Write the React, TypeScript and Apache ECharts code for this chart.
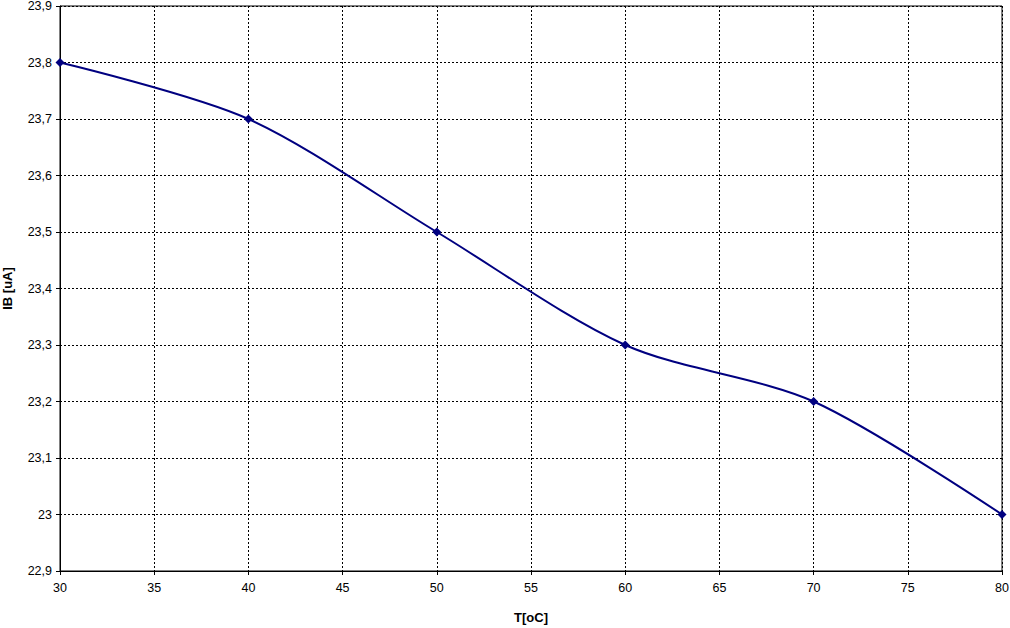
import React, { useEffect, useRef } from "react";
import * as echarts from "echarts";

const temperatures = [30, 40, 50, 60, 70, 80];
const ibValues = [23.8, 23.7, 23.5, 23.3, 23.2, 23.0];
const xTitle = "T[oC]";
const yTitle = "IB [uA]";

export default function App() {
  const ref = useRef<HTMLDivElement>(null);
  useEffect(() => {
    if (!ref.current) return;
    const chart = echarts.init(ref.current, null, { renderer: "svg" });
    const font = "'Liberation Sans', Arial, sans-serif";
    chart.setOption({
      animation: false,
      backgroundColor: "#ffffff",
      textStyle: { fontFamily: font },
      grid: {
        left: 60,
        right: 8,
        top: 6,
        bottom: 57,
        containLabel: false,
        outerBoundsMode: "none",
        show: true,
        borderColor: "#000",
        borderWidth: 1,
        backgroundColor: "transparent",
      },
      xAxis: {
        type: "value",
        min: 30,
        max: 80,
        interval: 5,
        name: xTitle,
        nameLocation: "middle",
        nameGap: 40,
        nameTextStyle: { fontFamily: font, fontSize: 13, fontWeight: "bold", color: "#000" },
        axisLine: { show: true, lineStyle: { color: "#000", width: 1 } },
        axisTick: { show: true, inside: false, length: 4, lineStyle: { color: "#000" } },
        axisLabel: { fontFamily: font, fontSize: 12.5, color: "#000", margin: 10 },
        splitLine: { show: true, lineStyle: { color: "#000", type: [2, 2], width: 1 } },
      },
      yAxis: {
        type: "value",
        min: 22.9,
        max: 23.9,
        interval: 0.1,
        name: yTitle,
        nameLocation: "middle",
        nameGap: 46,
        nameRotate: 90,
        nameTextStyle: { fontFamily: font, fontSize: 13, fontWeight: "bold", color: "#000" },
        axisLine: { show: true, lineStyle: { color: "#000", width: 1 } },
        axisTick: { show: true, inside: false, length: 4, lineStyle: { color: "#000" } },
        axisLabel: {
          fontFamily: font,
          fontSize: 12.5,
          color: "#000",
          margin: 8,
          formatter: (v: number) => {
            const r = Math.round(v * 10) / 10;
            return String(r).replace(".", ",");
          },
        },
        splitLine: { show: true, lineStyle: { color: "#000", type: [2, 2], width: 1 } },
      },
      series: [
        {
          type: "line",
          data: temperatures.map((t, i) => [t, ibValues[i]]),
          smooth: 0.3,
          symbol: "diamond",
          symbolSize: 9,
          itemStyle: { color: "#000080" },
          lineStyle: { color: "#000080", width: 2 },
        },
      ],
    });
    return () => chart.dispose();
  }, []);
  return <div ref={ref} style={{ width: 1010, height: 628, position: "absolute", left: 0, top: 0 }} />;
}
